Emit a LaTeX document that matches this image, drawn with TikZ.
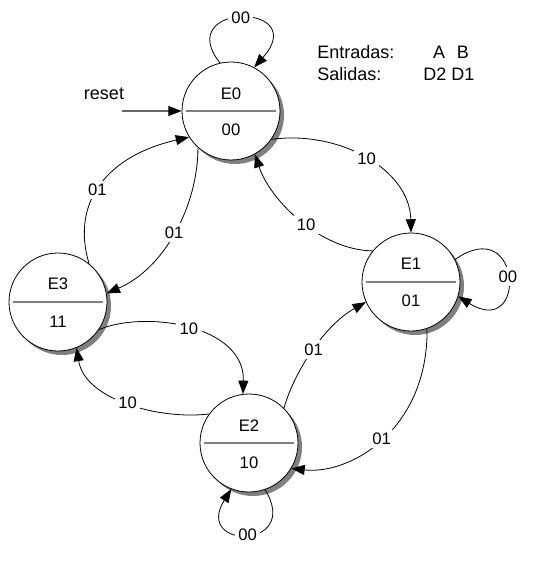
\documentclass[tikz,border=0pt]{standalone}
\usepackage{fontspec}
\setmainfont{Liberation Sans}
\usepackage{tikz}
\usetikzlibrary{arrows.meta,calc,positioning}

\begin{document}
\begin{tikzpicture}[x=0.75pt,y=0.75pt,yscale=-1,xscale=1,
  estado/.style={circle,draw,fill=white,line width=0.6pt,minimum size=73.5pt,inner sep=0pt},
  sombra/.style={fill=gray},
  divisor/.style={draw=gray,line width=1.1pt},
  texto/.style={font=\fontsize{12.5}{15}\selectfont,inner sep=1pt},
  leyenda/.style={font=\fontsize{13.5}{16}\selectfont,inner sep=0pt},
  etiqueta/.style={font=\fontsize{12.5}{15}\selectfont,fill=white,inner sep=2.5pt},
  flecha/.style={line width=0.6pt,-{Triangle[length=10pt,width=7.5pt,color=black]}}]
\useasboundingbox (0,0) rectangle (533,570);

%Shadows
\fill[sombra] (235,115) circle (49);
\fill[sombra] (415,286) circle (49);
\fill[sombra] (253,447) circle (49);
\fill[sombra] (62,306) circle (49);

%States
\node[estado] (E0) at (231,111) {};
\node[estado] (E1) at (411,282) {};
\node[estado] (E2) at (249,443) {};
\node[estado] (E3) at (58,302) {};

%Dividers
\draw[divisor] ([xshift=3pt]E0.west) -- ([xshift=-3pt]E0.east);
\draw[divisor] ([xshift=3pt]E1.west) -- ([xshift=-3pt]E1.east);
\draw[divisor] ([xshift=3pt]E2.west) -- ([xshift=-3pt]E2.east);
\draw[divisor] ([xshift=3pt]E3.west) -- ([xshift=-3pt]E3.east);

%State names and outputs
\node[texto] (E0n) at ($(E0)+(0,-17)$) {E0};
\node[texto] (E0s) at ($(E0)+(0,19)$) {00};
\node[texto] (E1n) at ($(E1)+(0,-18)$) {E1};
\node[texto] (E1s) at ($(E1)+(0,19)$) {01};
\node[texto] (E2n) at ($(E2)+(0,-17)$) {E2};
\node[texto] (E2s) at ($(E2)+(0,20)$) {10};
\node[texto] (E3n) at ($(E3)+(0,-18)$) {E3};
\node[texto] (E3s) at ($(E3)+(0,20)$) {11};

%Reset
\coordinate (R) at (122,111);
\node[leyenda] (reset) at (104,94) {reset};
\draw[flecha,draw=black!60,line width=0.9pt] (R) -- (E0.west);

%Legend
\node[leyenda,anchor=west] (entradas) at (317,52) {Entradas:};
\node[leyenda,anchor=west] (salidas) at (317,74) {Salidas:};
\node[leyenda] (AB) at (451,52) {A\hspace{9pt}B};
\node[leyenda] (D2D1) at (449,74) {D2 D1};

%Transitions
\draw[flecha] (E0.103) .. controls (172,2) and (312,2) .. node[etiqueta,pos=0.5] (l00a) {00} (E0.62);
\draw[flecha] (E0.-35) .. controls (340,130) and (410,170) .. node[etiqueta,pos=0.5] (l10a) {10} (E1.90);
\draw[flecha] (E1.141) .. controls (320,250) and (270,200) .. node[etiqueta,pos=0.45] (l10b) {10} (E0.-61);
\draw[flecha] (E3.51) .. controls (70,200) and (110,155) .. node[etiqueta,pos=0.45] (l01a) {01} (E0.212);
\draw[flecha] (E0.228) .. controls (198,205) and (165,268) .. node[etiqueta,pos=0.5] (l01b) {01} (E3.10);
\draw[flecha] (E3.-34) .. controls (145,310) and (245,325) .. node[etiqueta,pos=0.5] (l10c) {10} (E2.97);
\draw[flecha] (E2.144) .. controls (160,420) and (85,400) .. node[etiqueta,pos=0.5] (l10d) {10} (E3.-68);
\draw[flecha] (E2.45) .. controls (295,370) and (325,325) .. node[etiqueta,pos=0.5] (l01c) {01} (E1.-156);
\draw[flecha] (E1.-71) .. controls (428,430) and (350,475) .. node[etiqueta,pos=0.5] (l01d) {01} (E2.-31);
\draw[flecha] (E1.27) .. controls (522,212) and (528,340) .. node[etiqueta,pos=0.5] (l00b) {00} (E1.-17);
\draw[flecha] (E2.-71) .. controls (302,550) and (193,550) .. node[etiqueta,pos=0.5] (l00c) {00} (E2.-111);

\end{tikzpicture}
\end{document}
